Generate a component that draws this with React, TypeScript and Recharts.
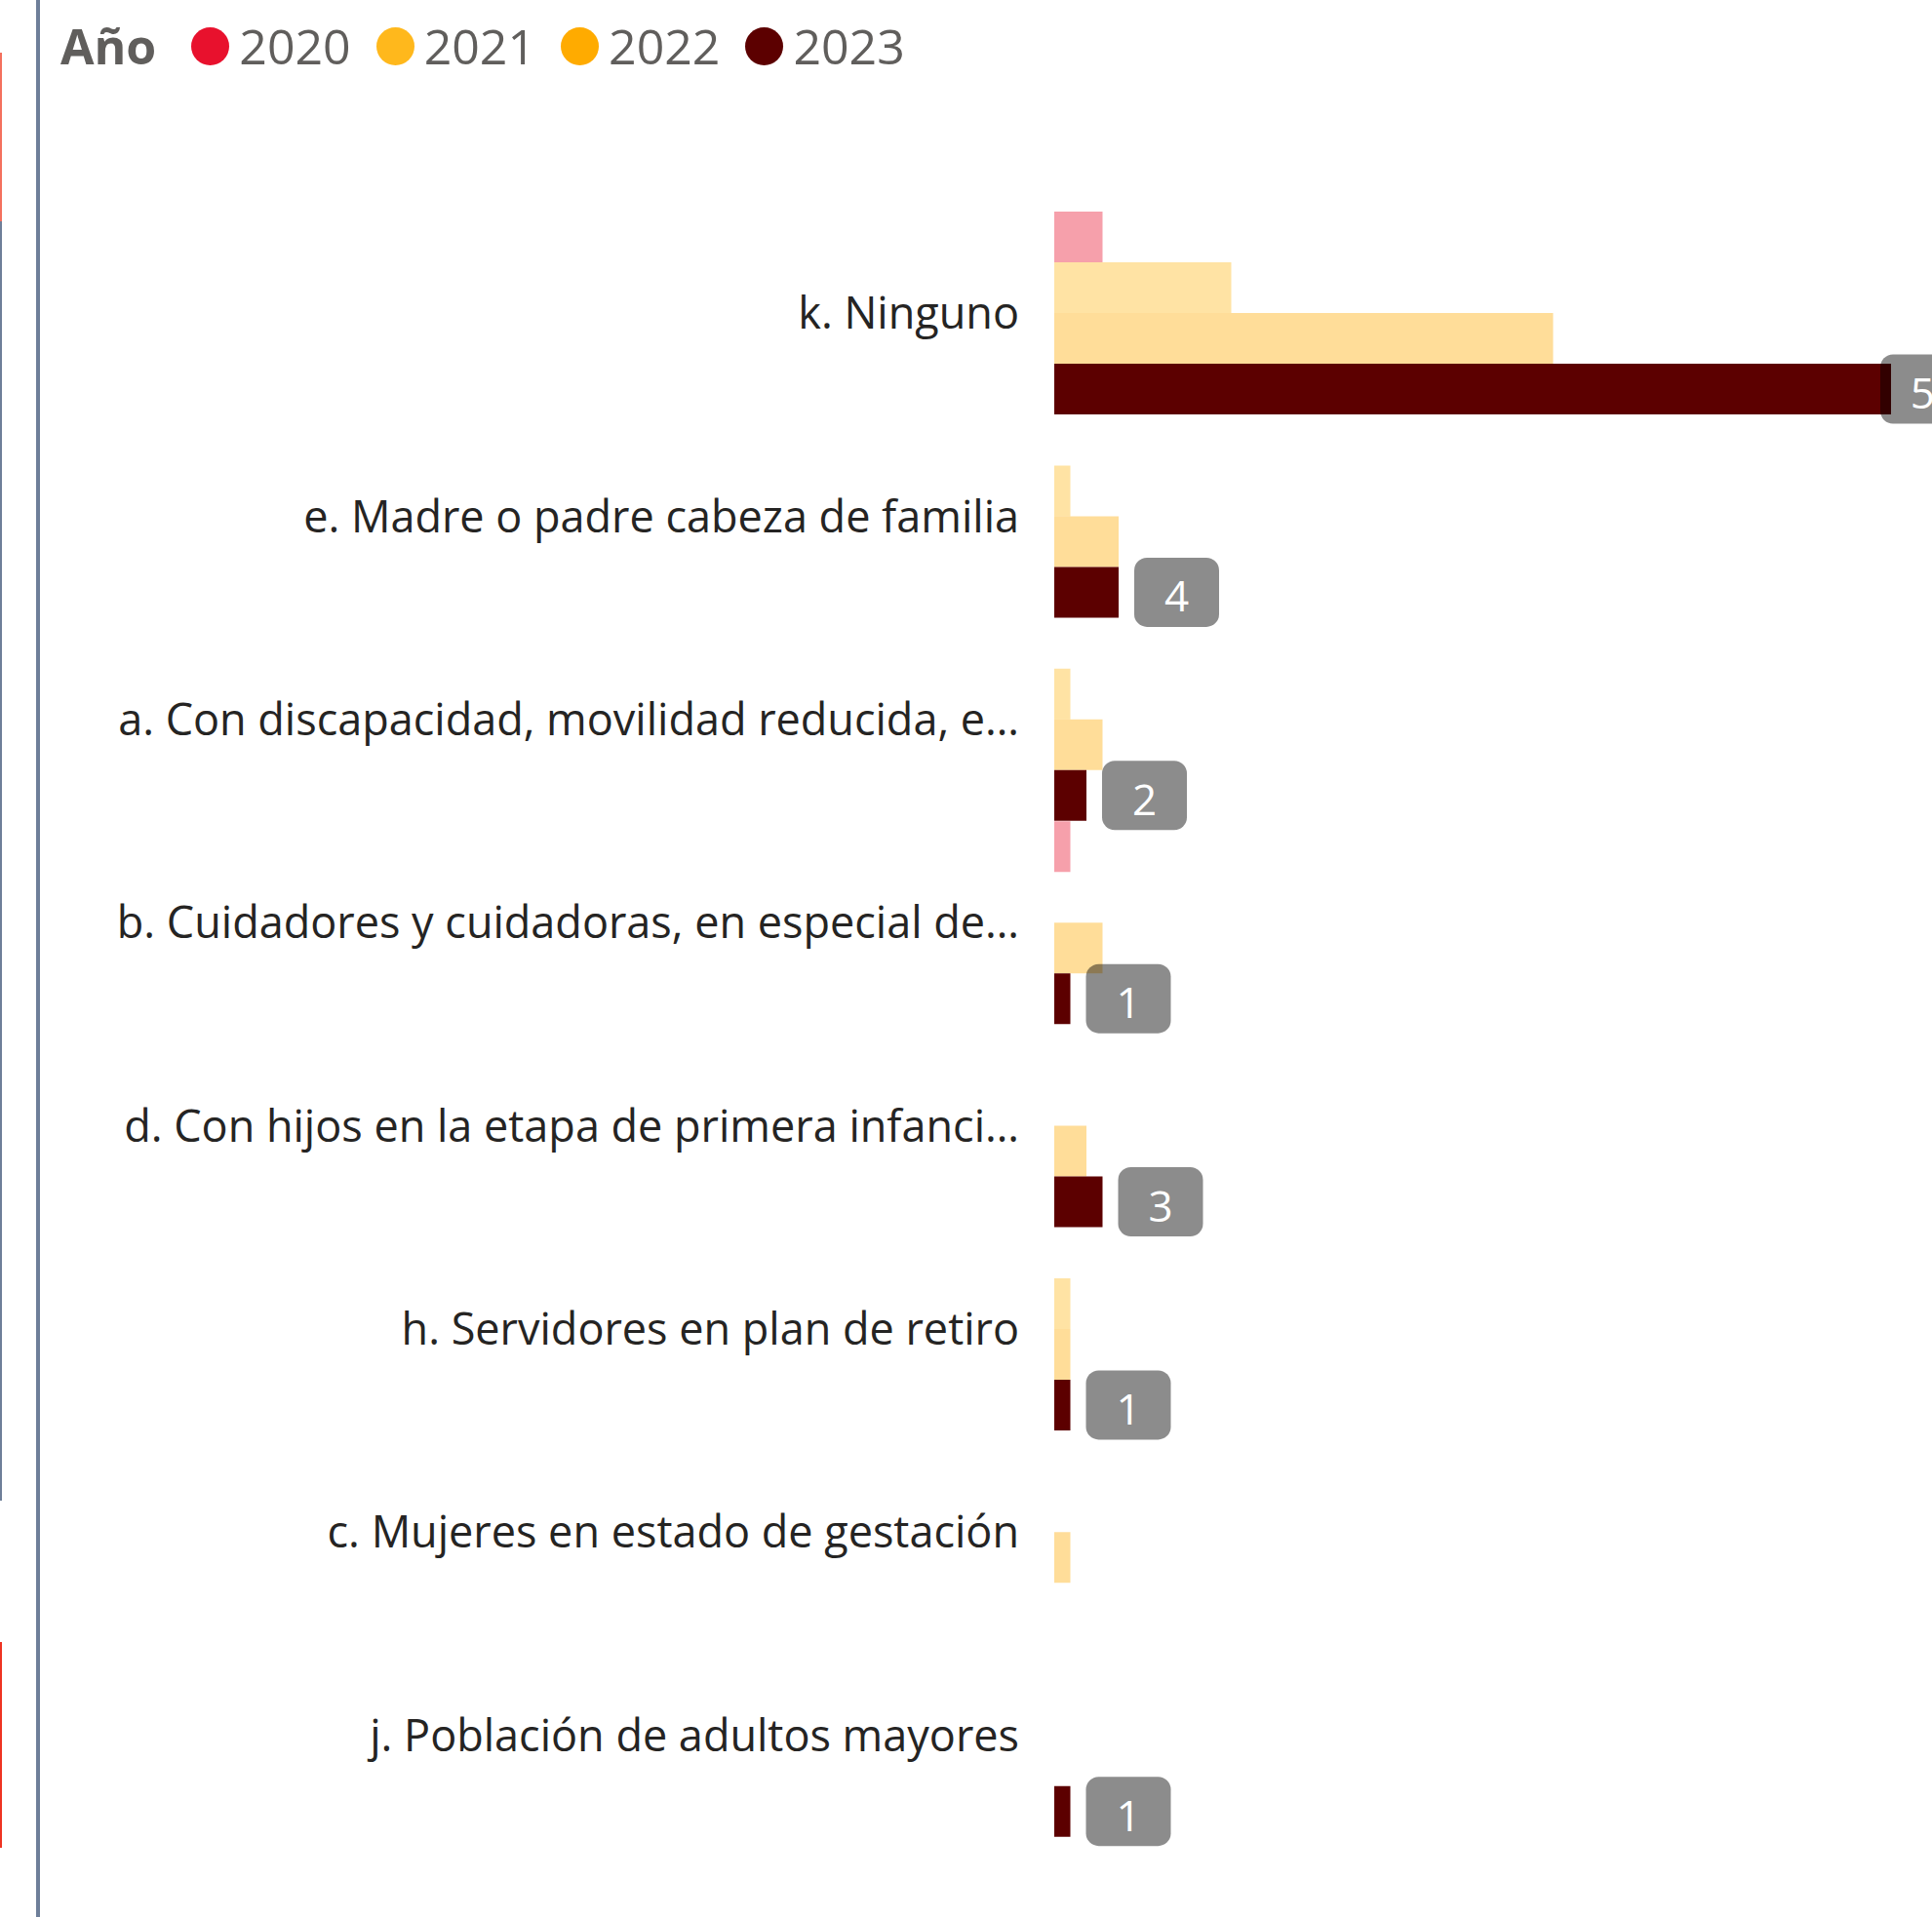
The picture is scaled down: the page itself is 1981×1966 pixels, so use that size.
import { Bar, BarChart, LabelList, XAxis, YAxis } from 'recharts'

const categories = [
  'k. Ninguno',
  'e. Madre o padre cabeza de familia',
  'a. Con discapacidad, movilidad reducida, e…',
  'b. Cuidadores y cuidadoras, en especial de…',
  'd. Con hijos en la etapa de primera infanci…',
  'h. Servidores en plan de retiro',
  'c. Mujeres en estado de gestación',
  'j. Población de adultos mayores',
]

const years = ['2020', '2021', '2022', '2023']

const values2020 = [3, 0, 0, 1, 0, 0, 0, 0]
const values2021 = [11, 1, 1, 0, 0, 1, 0, 0]
const values2022 = [31, 4, 3, 3, 2, 1, 1, 0]
const values2023 = [52, 4, 2, 1, 3, 1, 0, 1]

const yearColors = ['#E8112D', '#FFB81C', '#FFAB00', '#5C0000']
// 2023 is the highlighted year, the others are dimmed
const yearOpacity = [0.4, 0.4, 0.4, 1]

const FONT = '"Segoe UI", "Open Sans", sans-serif'
const BADGE_H = 71
const BADGE_MAX_X = 1928

const data = categories.map((category, i) => ({
  category,
  y2020: values2020[i],
  y2021: values2021[i],
  y2022: values2022[i],
  y2023: values2023[i],
}))

function ValueBadge(props: any) {
  const { x, y, width, height, value } = props
  if (!value) return null
  const w = 62 + 25 * String(value).length
  const bx = Math.min(Number(x) + Number(width) + 16, BADGE_MAX_X)
  const cy = Number(y) + Number(height) / 2
  return (
    <g>
      <rect x={bx} y={cy - BADGE_H / 2} width={w} height={BADGE_H} rx={13} fill="#000" fillOpacity={0.45} />
      <text x={bx + w / 2} y={cy + 20} textAnchor="middle" fill="#fff" fontSize={44} fontFamily={FONT}>
        {value}
      </text>
    </g>
  )
}

function YearLegend() {
  return (
    <div
      style={{
        position: 'absolute',
        left: 62,
        top: 17,
        height: 60,
        display: 'flex',
        alignItems: 'center',
        fontFamily: FONT,
        fontSize: 50,
        lineHeight: '60px',
        color: '#605E5C',
      }}
    >
      <span style={{ fontWeight: 700, marginRight: 36 }}>Año</span>
      {years.map((year, i) => (
        <span key={year} style={{ display: 'flex', alignItems: 'center', marginRight: 26 }}>
          <span
            style={{
              width: 39,
              height: 39,
              borderRadius: '50%',
              background: yearColors[i],
              marginRight: 10,
            }}
          />
          <span>{year}</span>
        </span>
      ))}
    </div>
  )
}

export default function App() {
  return (
    <div
      style={{
        position: 'absolute',
        left: 0,
        top: 0,
        width: 1981,
        height: 1966,
        overflow: 'hidden',
        background: '#fff',
      }}
    >
      <BarChart
        width={1981}
        height={1966}
        data={data}
        layout="vertical"
        margin={{ top: 217, right: 9, bottom: 82, left: 0 }}
        barCategoryGap={0}
        barGap={0}
      >
        <XAxis type="number" hide domain={[0, 54]} />
        <YAxis
          type="category"
          dataKey="category"
          width={1081}
          axisLine={false}
          tickLine={false}
          tickMargin={30}
          interval={0}
          tick={{ fill: '#252423', fontSize: 45, fontFamily: FONT }}
        />
        {years.map((year, i) => (
          <Bar
            key={year}
            dataKey={`y${year}`}
            name={year}
            fill={yearColors[i]}
            fillOpacity={yearOpacity[i]}
            isAnimationActive={false}
          >
            {year === '2023' ? <LabelList dataKey="y2023" content={ValueBadge} /> : null}
          </Bar>
        ))}
      </BarChart>

      <YearLegend />

      <div style={{ position: 'absolute', left: 37, top: 0, width: 4, height: 1966, background: '#6E7F99' }} />
      <div style={{ position: 'absolute', left: 0, top: 54, width: 2, height: 173, background: '#F4705E' }} />
      <div style={{ position: 'absolute', left: 0, top: 227, width: 2, height: 1312, background: '#6E7F99' }} />
      <div style={{ position: 'absolute', left: 0, top: 1684, width: 2, height: 211, background: '#EE3322' }} />
    </div>
  )
}
